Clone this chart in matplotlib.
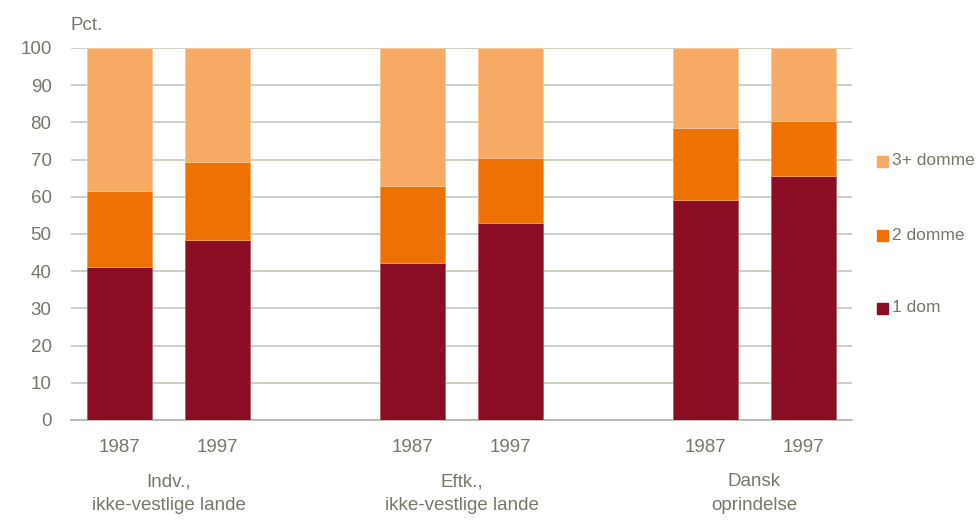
import matplotlib
matplotlib.use("Agg")
import matplotlib.pyplot as plt

plt.rcParams["font.family"] = ["Liberation Sans", "DejaVu Sans"]

years = ["1987", "1997", "1987", "1997", "1987", "1997"]
groups = ["Indv.,\nikke-vestlige lande", "Eftk.,\nikke-vestlige lande", "Dansk\noprindelse"]
one_dom = [41.0, 48.4, 42.3, 52.9, 59.2, 65.7]
two_domme = [20.6, 21.0, 20.7, 17.6, 19.4, 14.8]
three_plus = [38.4, 30.6, 37.0, 29.5, 21.4, 19.5]

pos = [0, 1, 3, 4, 6, 7]
txt = "#77776a"
c1, c2, c3 = "#8b0d24", "#ee7203", "#f6aa63"
fs, lfs = 13.5, 12.5

fig = plt.figure(figsize=(9.77, 5.23), dpi=100)
ax = fig.add_axes([71 / 977, 1 - 420 / 523, (852 - 71) / 977, (420 - 48) / 523])

w = 0.667
bottom2 = [a for a in one_dom]
bottom3 = [a + b for a, b in zip(one_dom, two_domme)]
ax.bar(pos, one_dom, w, color=c1, edgecolor="#b05a6a", linewidth=0.6, label="1 dom", zorder=3)
ax.bar(pos, two_domme, w, bottom=bottom2, color=c2, edgecolor="#f5a060", linewidth=0.6, label="2 domme", zorder=3)
ax.bar(pos, three_plus, w, bottom=bottom3, color=c3, edgecolor="#f8c89a", linewidth=0.6, label="3+ domme", zorder=3)

ax.set_xlim(-0.5, 7.5)
ax.set_ylim(0, 100)
ax.set_yticks(range(0, 101, 10))
ax.yaxis.grid(True, color="#c8c7bd", linewidth=1.2, zorder=0)
ax.set_axisbelow(True)
for s in ["left", "right", "top"]:
    ax.spines[s].set_visible(False)
ax.spines["bottom"].set_color("#b5b4a8")
ax.spines["bottom"].set_linewidth(1.2)
ax.tick_params(axis="both", length=0, labelsize=fs, colors=txt)
ax.tick_params(axis="y", pad=14)
ax.tick_params(axis="x", pad=14)
ax.set_xticks(pos)
ax.set_xticklabels(years)

for i, g in enumerate(groups):
    first, second = g.split("\n")
    xc = ax.transData.transform((pos[2 * i] + 0.5, 0))[0] / 977
    fig.text(xc, 1 - 482 / 523, first, ha="center", va="center", fontsize=fs, color=txt)
    fig.text(xc, 1 - 506 / 523, second, ha="center", va="center", fontsize=fs, color=txt)

fig.text(70 / 977, 1 - 26 / 523, "Pct.", ha="left", va="center", fontsize=fs, color=txt)

# legend on the right
leg_items = [("3+ domme", c3, 161), ("2 domme", c2, 235), ("1 dom", c1, 308)]
for label, col, y in leg_items:
    fig.patches.append(plt.Rectangle((877 / 977, 1 - (y + 6) / 523), 11 / 977, 11 / 523,
                                     transform=fig.transFigure, color=col, figure=fig))
    fig.text(892 / 977, 1 - y / 523, label, ha="left", va="center", fontsize=lfs, color=txt)

fig.savefig("out.png", dpi=100)
